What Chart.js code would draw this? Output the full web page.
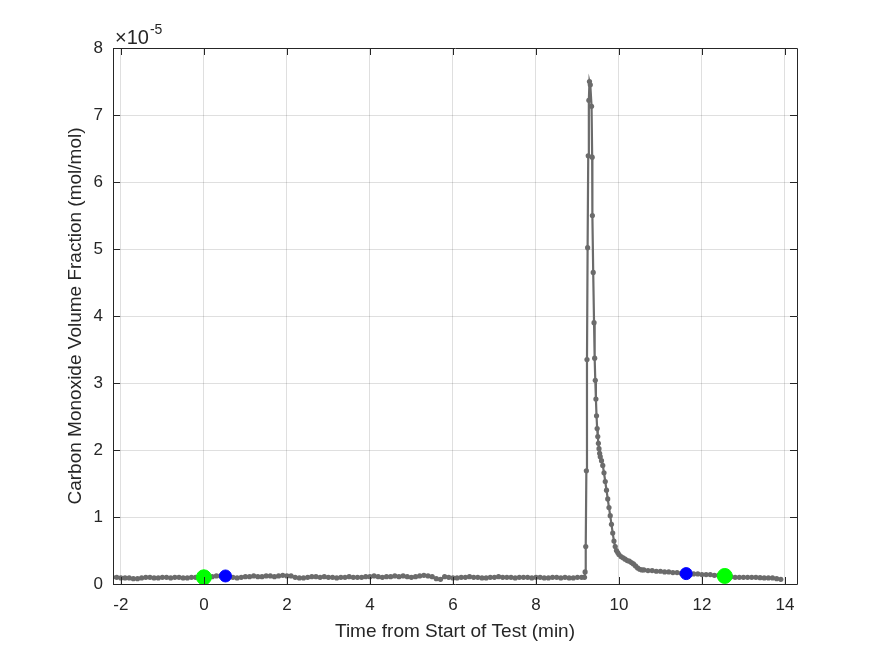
<!DOCTYPE html>
<html>
<head>
<meta charset="utf-8">
<script src="https://cdn.jsdelivr.net/npm/chart.js@4"></script>
<style>
  html, body { margin: 0; padding: 0; background: #fff; }
</style>
</head>
<body>
<canvas id="grafico" width="875" height="656"></canvas>
<script>
/* Línea base antes del pico (x10^-5 mol/mol), muestreada cada 0.1 min desde -2.2 */
var baseStart = -2.2;
var baseStep = 0.1;
var baseValues = [
  0.10,0.10,0.09,0.09,0.09,0.08,0.08,0.09,0.10,0.10,
  0.09,0.09,0.10,0.10,0.09,0.10,0.10,0.09,0.09,0.10,
  0.10,0.10,0.10,0.11,0.11,0.12,0.12,0.12,0.11,0.10,
  0.09,0.10,0.11,0.11,0.12,0.11,0.11,0.12,0.12,0.11,
  0.12,0.13,0.12,0.12,0.10,0.09,0.09,0.10,0.11,0.11,
  0.10,0.11,0.10,0.10,0.09,0.10,0.10,0.11,0.10,0.10,
  0.10,0.11,0.11,0.12,0.11,0.10,0.11,0.11,0.12,0.11,
  0.12,0.11,0.10,0.11,0.12,0.13,0.12,0.11,0.08,0.07,
  0.11,0.10,0.09,0.09,0.10,0.10,0.11,0.10,0.10,0.09,
  0.09,0.10,0.10,0.11,0.10,0.10,0.10,0.09,0.10,0.10,
  0.10,0.09,0.10,0.10,0.09,0.09,0.10,0.10,0.09,0.10,
  0.09,0.09,0.10,0.10
];

/* Pico y caída */
var peakTimes = [9.17,9.185,9.20,9.215,9.23,9.245,9.26,9.275,9.29,9.31,9.34,9.355,9.36,9.38,9.40,9.415,9.43,9.445,9.46,9.475,9.49,9.505,9.52,9.535,
  9.55,9.58,9.61,9.64,9.67,9.70,9.73,9.76,9.79,9.82,9.85,9.88,9.91,9.94,9.97,
  10.00,10.05,10.10,10.15,10.20,10.25,10.30,10.35,10.40,10.45,10.50,10.55,10.60];
var peakValues = [0.10,0.18,0.56,1.69,3.35,5.02,6.39,7.22,7.50,7.45,7.13,6.37,5.50,4.65,3.90,3.37,3.04,2.76,2.51,2.32,2.20,2.10,2.02,1.95,
  1.90,1.84,1.77,1.66,1.53,1.40,1.27,1.14,1.02,0.89,0.76,0.64,0.56,0.50,0.47,
  0.44,0.41,0.39,0.37,0.35,0.34,0.32,0.30,0.27,0.24,0.22,0.21,0.21];

/* Cola final, cada 0.1 min desde 10.7 */
var tailStart = 10.7;
var tailStep = 0.1;
var tailValues = [0.20,0.20,0.19,0.19,0.18,0.18,0.17,0.17,0.16,0.16,
  0.15,0.15,0.15,0.14,0.14,0.14,0.13,0.13,0.12,0.12,
  0.11,0.10,0.10,0.10,0.10,0.10,0.10,0.095,0.09,0.09,
  0.09,0.08,0.07];

/* Marcadores */
var blueTimes = [0.52, 11.62];
var blueValues = [0.12, 0.155];
var greenTimes = [0.0, 12.55];
var greenValues = [0.10, 0.12];

var xTicks = [-2, 0, 2, 4, 6, 8, 10, 12, 14];
var yTicks = [0, 1, 2, 3, 4, 5, 6, 7, 8];

var serie = [];
baseValues.forEach(function (v, i) { serie.push({ x: baseStart + i * baseStep, y: v }); });
peakValues.forEach(function (v, i) { serie.push({ x: peakTimes[i], y: v }); });
tailValues.forEach(function (v, i) { serie.push({ x: tailStart + i * tailStep, y: v }); });

var ejeColor = '#262626';
var fuente = '"Liberation Sans", Arial, sans-serif';

/* Caja y marcas hacia dentro, estilo MATLAB */
var cajaPlugin = {
  id: 'caja',
  afterDraw: function (chart) {
    var ctx = chart.ctx, a = chart.chartArea;
    var sx = chart.scales.x, sy = chart.scales.y;
    ctx.save();
    ctx.strokeStyle = ejeColor;
    ctx.lineWidth = 1;
    ctx.beginPath();
    ctx.rect(Math.round(a.left) + 0.5, Math.round(a.top) + 0.5, Math.round(a.right - a.left), Math.round(a.bottom - a.top));
    var L = 7;
    xTicks.forEach(function (t) {
      var px = Math.round(sx.getPixelForValue(t)) + 0.5;
      ctx.moveTo(px, a.bottom); ctx.lineTo(px, a.bottom - L);
      ctx.moveTo(px, a.top); ctx.lineTo(px, a.top + L);
    });
    yTicks.forEach(function (t) {
      var py = Math.round(sy.getPixelForValue(t)) + 0.5;
      ctx.moveTo(a.left, py); ctx.lineTo(a.left + L, py);
      ctx.moveTo(a.right, py); ctx.lineTo(a.right - L, py);
    });
    ctx.stroke();
    /* factor de escala */
    ctx.fillStyle = ejeColor;
    ctx.textBaseline = 'alphabetic';
    ctx.textAlign = 'left';
    ctx.font = '20px ' + fuente;
    ctx.fillText('\u00d710', a.left + 2, a.top - 4);
    var w = ctx.measureText('\u00d710').width;
    ctx.font = '14px ' + fuente;
    ctx.fillText('-5', a.left + 2 + w + 1, a.top - 14);
    ctx.restore();
  }
};

var marco = document.getElementById('grafico').getContext('2d');

var grafico = new Chart(marco, {
  type: 'scatter',
  data: {
    datasets: [
      {
        label: 'Azul',
        data: blueTimes.map(function (t, i) { return { x: t, y: blueValues[i] }; }),
        backgroundColor: '#0000ff',
        borderColor: '#0000ff',
        pointRadius: 6,
        showLine: false
      },
      {
        label: 'Verde',
        data: greenTimes.map(function (t, i) { return { x: t, y: greenValues[i] }; }),
        backgroundColor: '#00ff00',
        borderColor: '#00ff00',
        pointRadius: 7.5,
        showLine: false
      },
      {
        label: 'CO',
        data: serie,
        showLine: true,
        borderColor: '#6b6b6b',
        backgroundColor: '#6b6b6b',
        borderWidth: 2.2,
        pointRadius: 2.6,
        pointBorderWidth: 0,
        tension: 0
      }
    ]
  },
  options: {
    responsive: false,
    animation: false,
    events: [],
    layout: { padding: { top: 48, right: 78, left: 64, bottom: 9 } },
    plugins: { legend: { display: false }, tooltip: { enabled: false } },
    scales: {
      x: {
        type: 'linear',
        min: -2.19,
        max: 14.29,
        afterBuildTicks: function (s) { s.ticks = xTicks.map(function (v) { return { value: v }; }); },
        afterFit: function (s) { s.height = 63; },
        grid: { color: 'rgba(38,38,38,0.15)', drawTicks: false, lineWidth: 1 },
        border: { display: false },
        ticks: { color: ejeColor, padding: 11, maxRotation: 0, font: { size: 17, family: fuente } },
        title: { display: true, text: 'Time from Start of Test (min)', color: ejeColor, padding: { top: 0, bottom: 4 }, font: { size: 19, family: fuente } }
      },
      y: {
        min: 0,
        max: 8,
        afterBuildTicks: function (s) { s.ticks = yTicks.map(function (v) { return { value: v }; }); },
        afterFit: function (s) { s.width = 49; },
        grid: { color: 'rgba(38,38,38,0.15)', drawTicks: false, lineWidth: 1 },
        border: { display: false },
        ticks: { color: ejeColor, padding: 10, font: { size: 17, family: fuente } },
        title: { display: true, text: 'Carbon Monoxide Volume Fraction (mol/mol)', color: ejeColor, padding: { top: 0, bottom: 0 }, font: { size: 19, family: fuente } }
      }
    }
  },
  plugins: [cajaPlugin]
});
</script>
</body>
</html>
